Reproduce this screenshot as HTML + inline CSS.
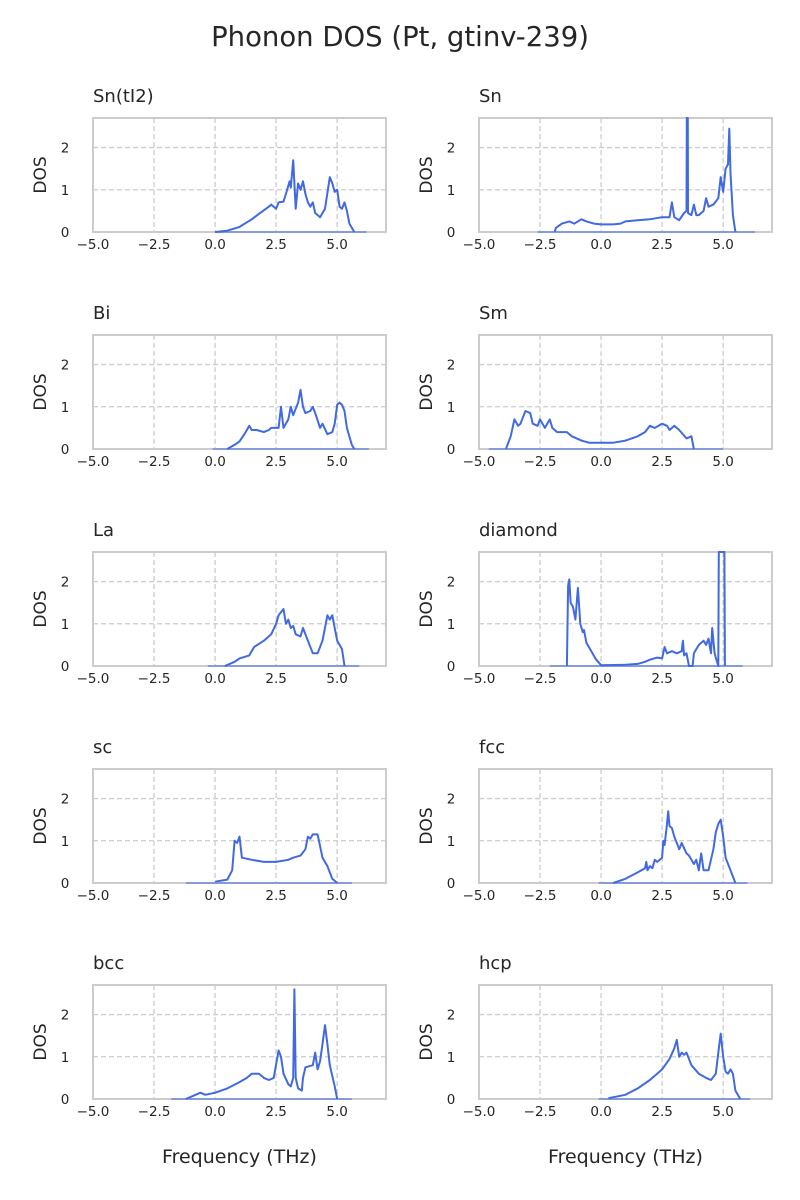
<!DOCTYPE html>
<html><head><meta charset="utf-8"><style>
body{margin:0;background:#fff}
svg{display:block;font-family:"DejaVu Sans","Liberation Sans",sans-serif}
</style></head><body>
<svg id="fig" width="800" height="1200" viewBox="0 0 800 1200">
<text x="400" y="46" text-anchor="middle" font-size="27.5" fill="#262626">Phonon DOS (Pt, gtinv-239)</text>
</svg>
<script>
const panelNames = ["Sn(tI2)","Sn","Bi","Sm","La","diamond","sc","fcc","bcc","hcp"];
const xTicks = [-5,-2.5,0,2.5,5];
const xTickLabels = ["−5.0","−2.5","0.0","2.5","5.0"];
const yTicks = [0,1,2];
const zeroRanges = [[0,6.2],[-2.6,6.3],[-0.1,6.3],[-4.6,5.0],[-0.3,5.9],[-2.1,5.8],[-1.2,5.6],[-0.1,6.0],[-1.8,5.6],[-0.1,6.1]];
const f0 = [0,0.5,1,1.5,1.8,2.2,2.3,2.5,2.6,2.8,2.9,3.0,3.05,3.1,3.2,3.3,3.4,3.5,3.6,3.7,3.8,3.9,4.0,4.1,4.3,4.5,4.7,4.8,4.9,5.0,5.1,5.2,5.3,5.4,5.5,5.7];
const d0 = [0,0.03,0.12,0.3,0.43,0.6,0.65,0.55,0.7,0.72,0.9,1.1,1.2,1.05,1.7,0.55,1.15,1.0,1.2,0.9,0.7,0.6,0.7,0.45,0.35,0.55,1.3,1.15,0.95,1.0,0.6,0.55,0.7,0.5,0.2,0];
const f1 = [-1.9,-1.85,-1.6,-1.3,-1.1,-0.8,-0.6,-0.3,0,0.5,0.8,1.0,1.5,2.0,2.5,2.8,2.9,3.0,3.2,3.4,3.5,3.51,3.55,3.56,3.7,3.8,3.9,4.0,4.2,4.3,4.4,4.6,4.8,4.9,5.0,5.1,5.2,5.25,5.3,5.4,5.5];
const d1 = [0,0.1,0.2,0.25,0.2,0.3,0.25,0.2,0.18,0.18,0.2,0.25,0.28,0.3,0.35,0.35,0.7,0.35,0.28,0.45,0.5,2.7,2.7,0.45,0.4,0.65,0.4,0.4,0.5,0.8,0.6,0.65,0.8,1.3,0.95,1.5,1.6,2.45,1.4,0.4,0];
const f2 = [0.5,0.8,1.0,1.2,1.4,1.5,1.7,2.0,2.2,2.3,2.6,2.7,2.8,3.0,3.1,3.2,3.4,3.5,3.6,3.7,3.9,4.0,4.1,4.3,4.4,4.6,4.8,4.9,5.0,5.1,5.2,5.3,5.4,5.6,5.7];
const d2 = [0,0.1,0.18,0.35,0.55,0.45,0.45,0.4,0.45,0.5,0.5,1.0,0.5,0.7,1.0,0.8,1.1,1.4,1.0,0.85,0.9,1.0,0.85,0.5,0.6,0.35,0.4,0.6,1.05,1.1,1.05,0.9,0.5,0.1,0];
const f3 = [-3.9,-3.7,-3.55,-3.4,-3.3,-3.1,-2.9,-2.8,-2.6,-2.5,-2.3,-2.1,-2.0,-1.8,-1.4,-1.2,-0.8,-0.5,0.5,1,1.5,1.8,2.0,2.2,2.5,2.7,2.8,3.0,3.2,3.5,3.7,3.8];
const d3 = [0,0.3,0.7,0.55,0.6,0.9,0.85,0.6,0.55,0.7,0.5,0.7,0.5,0.4,0.4,0.3,0.2,0.15,0.15,0.2,0.3,0.4,0.55,0.5,0.6,0.55,0.45,0.55,0.45,0.25,0.3,0];
const f4 = [0.4,0.8,1.0,1.4,1.6,2.0,2.3,2.5,2.6,2.8,2.9,3.0,3.1,3.2,3.3,3.5,3.6,3.8,4.0,4.2,4.4,4.6,4.7,4.8,4.9,5.0,5.2,5.3];
const d4 = [0,0.1,0.18,0.25,0.45,0.6,0.75,1.0,1.2,1.35,1.0,1.1,0.9,0.95,0.75,0.7,0.9,0.6,0.3,0.3,0.6,1.2,1.1,1.2,0.9,0.6,0.4,0];
const f5 = [-1.4,-1.35,-1.3,-1.25,-1.15,-1.05,-0.95,-0.85,-0.75,-0.7,-0.6,-0.4,-0.2,0,1,1.5,1.8,2.0,2.3,2.5,2.6,2.7,2.9,3.1,3.3,3.35,3.4,3.5,3.6,3.75,3.8,4.0,4.2,4.3,4.4,4.5,4.55,4.65,4.7,4.8,4.82,4.85,5.05,5.07];
const d5 = [0,1.9,2.05,1.5,1.4,1.1,1.85,1.0,0.8,0.85,0.55,0.35,0.15,0.02,0.03,0.05,0.1,0.15,0.2,0.18,0.45,0.3,0.35,0.3,0.35,0.6,0.25,0.3,0,0,0.3,0.5,0.6,0.5,0.65,0.3,0.9,0.3,0.2,0,2.7,2.7,2.7,0];
const f6 = [0,0.5,0.7,0.8,0.9,1.0,1.1,1.5,2,2.5,3.0,3.2,3.5,3.7,3.8,3.9,4.0,4.2,4.4,4.6,4.8,5.0];
const d6 = [0.03,0.08,0.3,1.0,0.95,1.1,0.6,0.55,0.5,0.5,0.55,0.6,0.65,0.8,1.1,1.05,1.15,1.15,0.6,0.4,0.1,0];
const f7 = [0.5,1.0,1.5,1.8,1.85,1.9,2.0,2.1,2.2,2.3,2.5,2.55,2.6,2.7,2.75,2.8,2.9,3.0,3.2,3.3,3.5,3.6,3.8,3.9,4.0,4.1,4.2,4.4,4.6,4.7,4.8,4.9,5.0,5.1,5.3,5.5];
const d7 = [0,0.1,0.25,0.35,0.5,0.3,0.4,0.35,0.55,0.5,0.6,1.0,0.9,1.4,1.7,1.35,1.3,1.1,0.8,0.95,0.7,0.65,0.45,0.55,0.3,0.7,0.3,0.3,0.8,1.2,1.4,1.5,1.1,0.6,0.3,0];
const f8 = [-1.2,-1.0,-0.6,-0.4,0,0.5,1,1.3,1.5,1.8,2.0,2.2,2.4,2.6,2.7,2.8,3.0,3.1,3.2,3.25,3.3,3.4,3.55,3.6,3.7,4.0,4.1,4.2,4.3,4.4,4.5,4.6,4.7,4.9,5.0];
const d8 = [0,0.05,0.15,0.1,0.15,0.25,0.4,0.5,0.6,0.6,0.5,0.45,0.5,1.15,1.0,0.6,0.35,0.3,0.5,2.6,0.5,0.25,0.2,0.5,0.75,0.8,1.1,0.7,0.9,1.3,1.75,1.3,0.8,0.3,0];
const f9 = [0.3,1,1.5,2,2.5,2.8,3.0,3.1,3.2,3.3,3.4,3.5,3.7,4.0,4.3,4.5,4.7,4.8,4.9,5.0,5.1,5.2,5.3,5.4,5.5,5.7];
const d9 = [0.02,0.1,0.25,0.45,0.7,0.95,1.2,1.4,1.0,1.1,1.05,1.1,0.8,0.6,0.5,0.45,0.6,1.1,1.55,1.0,0.65,0.6,0.7,0.6,0.2,0];
const freqs=[f0,f1,f2,f3,f4,f5,f6,f7,f8,f9];
const doses=[d0,d1,d2,d3,d4,d5,d6,d7,d8,d9];

const NS="http://www.w3.org/2000/svg";
const svg=document.getElementById('fig');
function mk(tag,attrs,parent,text){const e=document.createElementNS(NS,tag);for(const k in attrs)e.setAttribute(k,attrs[k]);if(text!==undefined)e.textContent=text;parent.appendChild(e);return e;}
const colX=[93,479], rowY=[118,335,552,769,985], W=293, H=114;
const xMin=-5,xMax=7,yMin=0,yMax=2.7;
panelNames.forEach((name,i)=>{
  const c=i%2,r=Math.floor(i/2);
  const L=colX[c],T=rowY[r];
  const sx=v=>L+(v-xMin)/(xMax-xMin)*W;
  const sy=v=>T+H-(v-yMin)/(yMax-yMin)*H;
  const g=mk('g',{},svg);
  
  
  xTicks.forEach((t,k)=>{
    const gl=mk('line',{x1:sx(t),x2:sx(t),y1:T,y2:T+H,stroke:'#cccccc','stroke-width':1.3,'stroke-dasharray':'5,3'},g);
    
    
    const tl=mk('text',{x:sx(t),y:T+H+17,'text-anchor':'middle','font-size':13.5,fill:'#262626'},g,xTickLabels[k]);
    
    
  });
  yTicks.forEach(t=>{
    if(t>0){const gl=mk('line',{x1:L,x2:L+W,y1:sy(t),y2:sy(t),stroke:'#cccccc','stroke-width':1.3,'stroke-dasharray':'5,3'},g);
    
    }
    const tl=mk('text',{x:L-28,y:sy(t)+5,'text-anchor':'middle','font-size':13.5,fill:'#262626'},g,String(t));
    
    
  });
  const fr=mk('rect',{x:L,y:T,width:W,height:H,fill:'none',stroke:'#cccccc','stroke-width':2},g);
  
  
  const z=zeroRanges[i];
  const zl=mk('line',{x1:sx(z[0]),x2:sx(z[1]),y1:sy(0),y2:sy(0),stroke:'#4169e1','stroke-opacity':0.5,'stroke-width':2},g);
  
  
  const pts=freqs[i].map((f,k)=>sx(f).toFixed(1)+','+Math.max(T,sy(doses[i][k])).toFixed(1)).join(' ');
  const pl=mk('polyline',{points:pts,fill:'none',stroke:'#4169e1','stroke-width':2,'stroke-linejoin':'round'},g);
  
  
  const tt=mk('text',{x:L,y:T-16,'font-size':18,fill:'#262626'},g,name);
  
  
  const yl=mk('text',{x:0,y:0,transform:`translate(${L-47},${T+H/2}) rotate(-90)`,'text-anchor':'middle','font-size':17,fill:'#262626'},g,'DOS');
  
  
  if(r===4){
    const xl=mk('text',{x:L+W/2,y:T+H+64,'text-anchor':'middle','font-size':19,fill:'#262626'},g,'Frequency (THz)');
    
    
  }
});
</script>
</body></html>
